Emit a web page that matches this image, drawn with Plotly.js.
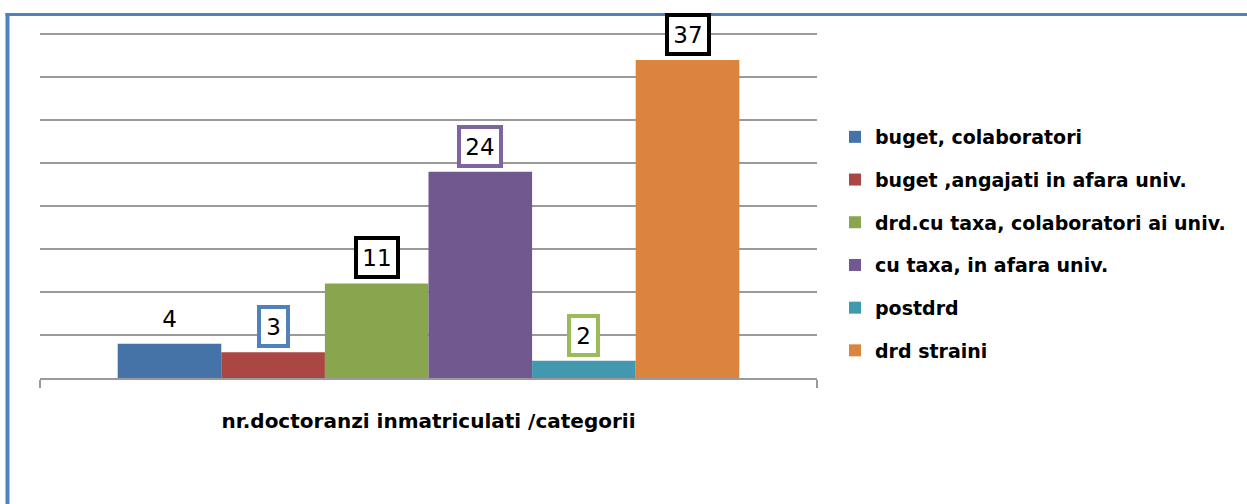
<!DOCTYPE html>
<html>
<head>
<meta charset="utf-8">
<script src="https://cdn.plot.ly/plotly-3.0.1.min.js"></script>
<style>
  html, body { margin: 0; padding: 0; background: #fff; }
  #chart { width: 1247px; height: 504px; }
</style>
</head>
<body>
<div id="chart"></div>
<script>
// ---- data ----
const categories = ['nr.doctoranzi inmatriculati /categorii'];
const seriesNames = [
  'buget, colaboratori',
  'buget ,angajati in afara univ.',
  'drd.cu taxa, colaboratori ai univ.',
  'cu taxa, in afara univ.',
  'postdrd',
  'drd straini'
];
const seriesValues = [4, 3, 11, 24, 2, 37];
const yTickValues = [0, 5, 10, 15, 20, 25, 30, 35, 40];

// ---- styles ----
const barColors = ['#4572A7', '#AA4643', '#89A54E', '#71588F', '#4198AF', '#DB843D'];
const labelBorderColors = ['rgba(0,0,0,0)', '#4F81BD', '#000000', '#8064A2', '#9BBB59', '#000000'];
const labelBgColors = ['rgba(0,0,0,0)', '#fff', '#fff', '#fff', '#fff', '#fff'];
const FONT = '"DejaVu Sans", "Open Sans", sans-serif';

const W = 1247, H = 504;
const margin = { l: 40, r: 430, t: 30, b: 126, pad: 0 };
const yMax = 40.5;
const bargap = 0.2;
const n = seriesValues.length;

const traces = seriesNames.map((name, i) => ({
  type: 'bar',
  name: name,
  x: categories,
  y: [seriesValues[i]],
  marker: { color: barColors[i], line: { width: 0 } },
  hoverinfo: 'name+y',
  legendgroup: 'g' + i
}));

const slot = (1 - bargap) / n;
const annotations = seriesValues.map((v, i) => {
  const t = String(v);
  return {
    xref: 'x', yref: 'y',
    x: (i - (n - 1) / 2) * slot,
    y: v,
    text: t,
    showarrow: false,
    xanchor: 'center', yanchor: 'bottom',
    yshift: 4,
    width: t.length * 13 + 8,
    height: 31,
    align: 'center', valign: 'middle',
    font: { family: FONT, size: 23, color: '#000' },
    bgcolor: labelBgColors[i],
    bordercolor: labelBorderColors[i],
    borderwidth: 4,
    borderpad: 2
  };
});

// frame lines (blue) positioned in paper units from pixel layout
const pw = W - margin.l - margin.r, ph = H - margin.t - margin.b;
const px2x = p => (p - margin.l) / pw;
const py2y = p => (H - margin.b - p) / ph;
const frameColor = '#4F81BD';
const shapes = [
  { type: 'line', xref: 'paper', yref: 'paper', x0: px2x(7.5), x1: px2x(7.5), y0: py2y(H + 5), y1: py2y(13), line: { color: frameColor, width: 4 } },
  { type: 'line', xref: 'paper', yref: 'paper', x0: px2x(5.5), x1: px2x(W + 5), y0: py2y(14.5), y1: py2y(14.5), line: { color: frameColor, width: 3 } }
];

const layout = {
  width: W, height: H,
  margin: margin,
  paper_bgcolor: '#fff', plot_bgcolor: '#fff',
  font: { family: FONT, color: '#000' },
  barmode: 'group',
  bargap: bargap,
  bargroupgap: 0,
  showlegend: true,
  legend: {
    x: px2x(835), xanchor: 'left',
    y: py2y(118), yanchor: 'top',
    font: { family: FONT, size: 19, color: '#000', weight: 'bold' },
    traceorder: 'grouped',
    tracegroupgap: 15,
    itemclick: false
  },
  xaxis: {
    type: 'category',
    showline: true, linecolor: '#9a9a9a', linewidth: 2,
    ticks: 'outside', tickson: 'boundaries', ticklen: 8, tickwidth: 2, tickcolor: '#9a9a9a',
    ticklabelstandoff: 24,
    tickfont: { family: FONT, size: 20, color: '#000', weight: 'bold' },
    showgrid: false, zeroline: false, fixedrange: true
  },
  yaxis: {
    range: [0, yMax],
    tickvals: yTickValues,
    showticklabels: false,
    ticks: '',
    showgrid: true, gridcolor: '#9a9a9a', gridwidth: 2,
    showline: false, zeroline: false, fixedrange: true
  },
  annotations: annotations,
  shapes: shapes
};

Plotly.newPlot('chart', traces, layout, { displayModeBar: false, staticPlot: true });
</script>
</body>
</html>
